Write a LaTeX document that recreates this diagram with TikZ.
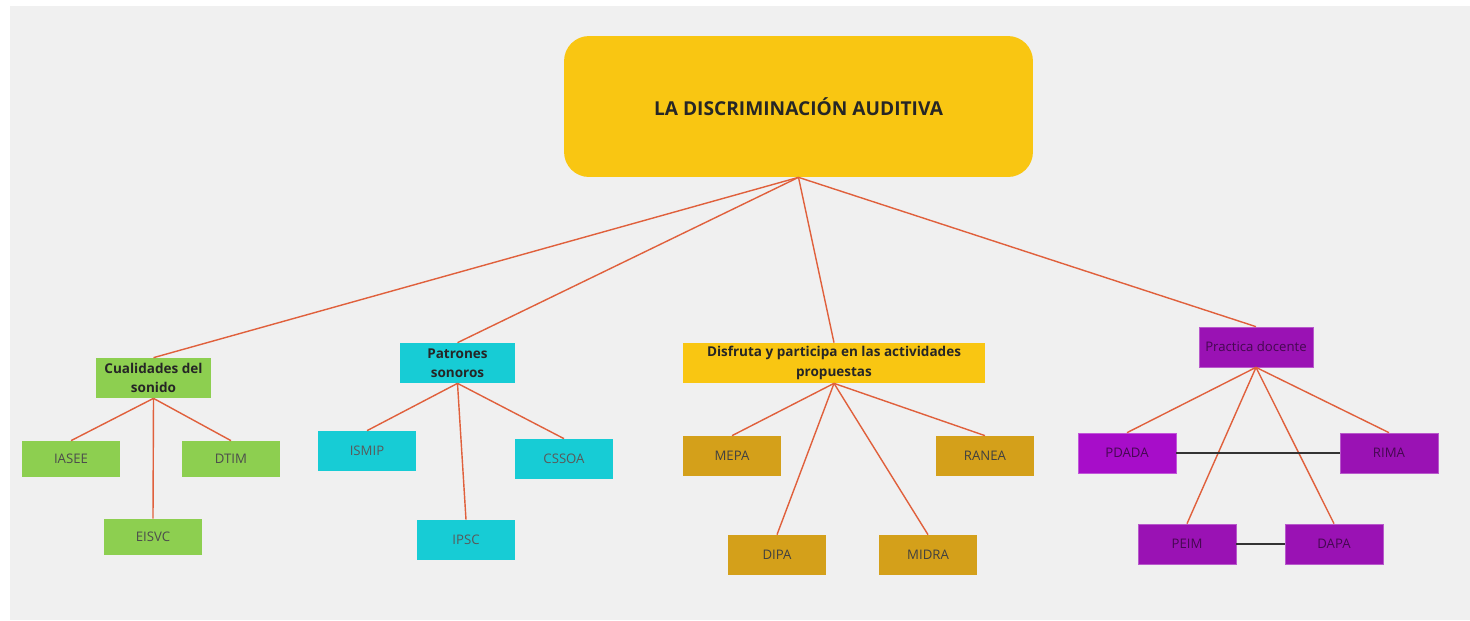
\documentclass[tikz,border=0pt]{standalone}
\usepackage{fontspec}
\setmainfont{Open Sans}

\definecolor{bggray}{HTML}{F0F0F0}
\definecolor{sunyellow}{HTML}{F9C612}
\definecolor{leafgreen}{HTML}{8DCF50}
\definecolor{aquablue}{HTML}{17CCD5}
\definecolor{darkgold}{HTML}{D4A01A}
\definecolor{violet}{HTML}{9A12B4}
\definecolor{brightviolet}{HTML}{A70DC9}
\definecolor{linkred}{HTML}{E0603C}

\begin{document}
\begin{tikzpicture}[x=0.02cm,y=-0.02cm]
\tikzset{every node/.style={inner sep=0pt,align=center},
  box/.style={minimum width=1.96cm,minimum height=0.8cm,font=\fontsize{7.5}{9}\selectfont},
  topic/.style={minimum width=2.3cm,minimum height=0.8cm,font=\fontsize{7.7}{11}\selectfont\bfseries,text=black!85},
  link/.style={linkred,line width=0.8pt},
  tie/.style={black!80,line width=0.8pt}}
\fill [white] (0,0) rectangle (1470,620);
\fill [bggray] (10,6) rectangle (1470,620);

% root
\node [fill=sunyellow,rounded corners=0.5cm,minimum width=9.38cm,minimum height=2.82cm,
  font=\fontsize{10.9}{13}\selectfont\bfseries,text=black!85] (root) at (798.5,106.5) {LA DISCRIMINACIÓN AUDITIVA};

% cualidades
\node [topic,fill=leafgreen] (cual) at (153.5,378) {Cualidades del\\sonido};
\node [box,fill=leafgreen,minimum height=0.72cm,text=black!70] (iasee) at (71,459) {IASEE};
\node [box,fill=leafgreen,minimum height=0.72cm,text=black!70] (dtim) at (231,459) {DTIM};
\node [box,fill=leafgreen,minimum height=0.72cm,text=black!70] (eisvc) at (153,537) {EISVC};

% patrones
\node [topic,fill=aquablue] (patr) at (457.5,363) {Patrones\\sonoros};
\node [box,fill=aquablue,text=black!65] (ismip) at (367,451) {ISMIP};
\node [box,fill=aquablue,text=black!65] (cssoa) at (564,459) {CSSOA};
\node [box,fill=aquablue,text=black!65] (ipsc) at (466,540) {IPSC};

% disfruta
\node [topic,fill=sunyellow,minimum width=6.04cm] (disf) at (834,363) {Disfruta y participa en las actividades\\propuestas};
\node [box,fill=darkgold,text=black!75] (mepa) at (732,456) {MEPA};
\node [box,fill=darkgold,text=black!75] (ranea) at (985,456) {RANEA};
\node [box,fill=darkgold,text=black!75] (dipa) at (777,555) {DIPA};
\node [box,fill=darkgold,text=black!75] (midra) at (928,555) {MIDRA};

% practica
\node [box,fill=violet,minimum width=2.28cm,draw=violet!70!white,text=violet!45!black] (prac) at (1256,347) {Practica docente};
\node [box,fill=brightviolet,draw=brightviolet!70!white,text=violet!45!black] (pdada) at (1127,453) {PDADA};
\node [box,fill=violet,draw=violet!70!white,text=violet!45!black] (rima) at (1389,453) {RIMA};
\node [box,fill=violet,draw=violet!70!white,text=violet!45!black] (peim) at (1187,544) {PEIM};
\node [box,fill=violet,draw=violet!70!white,text=violet!45!black] (dapa) at (1334,544) {DAPA};

% links
\foreach \t in {cual,patr,disf,prac}
  \draw [link] (root.south) -- (\t.north);
\foreach \t in {iasee,dtim,eisvc}
  \draw [link] (cual.south) -- (\t.north);
\foreach \t in {ismip,cssoa,ipsc}
  \draw [link] (patr.south) -- (\t.north);
\foreach \t in {mepa,ranea,dipa,midra}
  \draw [link] (disf.south) -- (\t.north);
\foreach \t in {pdada,rima,peim,dapa}
  \draw [link] (prac.south) -- (\t.north);
\draw [tie] (pdada.east) -- (rima.west);
\draw [tie] (peim.east) -- (dapa.west);
\end{tikzpicture}
\end{document}
